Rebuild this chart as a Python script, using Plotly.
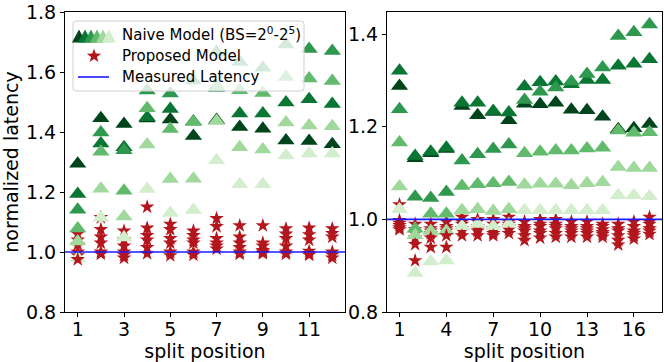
import math
import plotly.graph_objects as go
from plotly.subplots import make_subplots

# ---------------- data ----------------
x_left = list(range(1, 13))
x_right = list(range(1, 18))
left_ticks = [1, 3, 5, 7, 9, 11]
right_ticks = [1, 4, 7, 10, 13, 16]
measured = 1.0

# Naive model, left panel (BS = 1,2,4,8,16,32)
left_naive_bs1 = [1.294, 1.446, 1.427, 1.445, 1.442, 1.387, 1.440, 1.417, 1.411, 1.372, 1.370, 1.359]
left_naive_bs2 = [1.193, 1.362, 1.349, 1.449, 1.477, 1.435, 1.547, 1.462, 1.462, 1.498, 1.509, 1.493]
left_naive_bs4 = [1.141, 1.398, 1.339, 1.538, 1.528, 1.572, 1.667, 1.633, 1.614, 1.692, 1.677, 1.670]
left_naive_bs8 = [1.078, 1.334, 1.204, 1.479, 1.410, 1.433, 1.553, 1.539, 1.530, 1.583, 1.578, 1.570]
left_naive_bs16 = [1.035, 1.211, 1.118, 1.358, 1.243, 1.244, 1.437, 1.349, 1.342, 1.432, 1.422, 1.419]
left_naive_bs32 = [0.980, 1.114, 1.048, 1.210, 1.130, 1.140, 1.306, 1.226, 1.226, 1.322, 1.328, 1.328]

# Proposed model, left panel
left_prop_bs1 = [1.060, 1.115, 1.070, 1.150, 1.093, 1.070, 1.112, 1.088, 1.088, 1.078, 1.080, 1.078]
left_prop_bs2 = [1.040, 1.075, 1.040, 1.080, 1.075, 1.055, 1.085, 1.050, 1.030, 1.060, 1.058, 1.062]
left_prop_bs4 = [1.025, 1.050, 1.020, 1.055, 1.045, 1.040, 1.045, 1.030, 1.020, 1.045, 1.040, 1.050]
left_prop_bs8 = [1.000, 1.030, 1.000, 1.040, 1.030, 1.030, 1.030, 1.015, 1.005, 1.020, 1.003, 1.000]
left_prop_bs16 = [0.988, 1.000, 0.990, 1.015, 1.000, 1.000, 1.020, 1.000, 1.000, 1.000, 0.995, 0.990]
left_prop_bs32 = [0.975, 0.993, 0.980, 0.995, 0.988, 0.990, 1.010, 0.993, 0.995, 0.993, 0.990, 0.980]

# Naive model, right panel
right_naive_bs1 = [1.288, 1.132, 1.143, 1.152, 1.245, 1.225, 1.232, 1.214, 1.250, 1.249, 1.252, 1.237, 1.236, 1.222, 1.195, 1.197, 1.206]
right_naive_bs2 = [1.321, 1.137, 1.146, 1.155, 1.252, 1.252, 1.234, 1.231, 1.287, 1.296, 1.298, 1.292, 1.301, 1.301, 1.332, 1.336, 1.346]
right_naive_bs4 = [1.238, 1.049, 1.046, 1.059, 1.127, 1.141, 1.152, 1.162, 1.258, 1.276, 1.285, 1.298, 1.314, 1.328, 1.396, 1.404, 1.421]
right_naive_bs8 = [1.166, 0.980, 1.012, 1.012, 1.072, 1.076, 1.078, 1.081, 1.143, 1.146, 1.149, 1.149, 1.153, 1.155, 1.192, 1.187, 1.188]
right_naive_bs16 = [1.071, 0.966, 0.975, 0.975, 1.020, 1.022, 1.018, 1.022, 1.075, 1.077, 1.077, 1.074, 1.078, 1.080, 1.113, 1.111, 1.111]
right_naive_bs32 = [1.022, 0.884, 0.909, 0.911, 0.985, 0.990, 0.985, 0.990, 1.020, 1.020, 1.020, 1.020, 1.020, 1.020, 1.052, 1.052, 1.050]

# Proposed model, right panel
right_prop_bs1 = [1.032, 0.990, 0.990, 0.995, 1.005, 1.000, 1.000, 1.005, 0.995, 1.000, 1.000, 0.995, 0.995, 0.990, 0.990, 0.995, 1.005]
right_prop_bs2 = [0.998, 0.978, 0.980, 0.985, 0.995, 0.995, 0.990, 0.995, 0.985, 0.990, 0.990, 0.985, 0.985, 0.985, 0.980, 0.985, 0.995]
right_prop_bs4 = [0.992, 0.970, 0.975, 0.980, 0.990, 0.985, 0.980, 0.990, 0.980, 0.985, 0.985, 0.980, 0.980, 0.978, 0.975, 0.975, 0.990]
right_prop_bs8 = [0.987, 0.960, 0.970, 0.975, 0.980, 0.980, 0.975, 0.985, 0.975, 0.975, 0.980, 0.975, 0.975, 0.972, 0.965, 0.970, 0.980]
right_prop_bs16 = [0.982, 0.946, 0.960, 0.965, 0.975, 0.975, 0.970, 0.978, 0.965, 0.970, 0.970, 0.970, 0.970, 0.968, 0.955, 0.965, 0.975]
right_prop_bs32 = [0.978, 0.911, 0.940, 0.940, 0.965, 0.965, 0.965, 0.970, 0.955, 0.960, 0.962, 0.962, 0.962, 0.962, 0.945, 0.958, 0.968]

# ---------------- style ----------------
GREENS = ['#00441b', '#0a7633', '#2f984f', '#62bb6d', '#a0d99b', '#d3eecd']
STAR_COLOR = '#b3161d'
LINE_COLOR = '#1a1aff'
FONT = 'DejaVu Sans'
W, H = 664, 362
ML, MR, MT, MB = 65, 2, 12, 50
PW, PH = W - ML - MR, H - MT - MB

left_naive = [left_naive_bs1, left_naive_bs2, left_naive_bs4, left_naive_bs8, left_naive_bs16, left_naive_bs32]
left_prop = [left_prop_bs1, left_prop_bs2, left_prop_bs4, left_prop_bs8, left_prop_bs16, left_prop_bs32]
right_naive = [right_naive_bs1, right_naive_bs2, right_naive_bs4, right_naive_bs8, right_naive_bs16, right_naive_bs32]
right_prop = [right_prop_bs1, right_prop_bs2, right_prop_bs4, right_prop_bs8, right_prop_bs16, right_prop_bs32]

fig = make_subplots(rows=1, cols=2)

for col, xs, naive, prop in [(1, x_left, left_naive, left_prop), (2, x_right, right_naive, right_prop)]:
    for i in range(6):
        fig.add_trace(go.Scatter(x=xs, y=naive[i], mode='markers', showlegend=False,
                                 marker=dict(symbol='triangle-up', size=15, color=GREENS[i],
                                             line=dict(width=0))), row=1, col=col)
        fig.add_trace(go.Scatter(x=xs, y=prop[i], mode='markers', showlegend=False,
                                 marker=dict(symbol='star', size=11, color=STAR_COLOR,
                                             line=dict(width=0))), row=1, col=col)

# measured latency line
for xr, yr in [('x', 'y'), ('x2', 'y2')]:
    fig.add_shape(type='line', xref=xr + ' domain', yref=yr, x0=0, x1=1, y0=measured, y1=measured,
                  line=dict(color=LINE_COLOR, width=1.6), layer='above')

axis_common = dict(showline=True, linecolor='black', linewidth=1, mirror=True, ticks='outside',
                   ticklen=4, tickcolor='black', showgrid=False, zeroline=False, automargin=False,
                   tickfont=dict(family=FONT, size=19, color='black'))
title_font = dict(family=FONT, size=19, color='black')

d1 = (345 - ML) / PW
d2 = (387 - ML) / PW
fig.update_layout(
    xaxis=dict(domain=[0, d1], range=[0.45, 12.55], tickvals=left_ticks, ticklabelstandoff=-4,
               title=dict(text='split position', font=title_font, standoff=0), **axis_common),
    xaxis2=dict(domain=[d2, 1], range=[0.2, 17.8], tickvals=right_ticks, ticklabelstandoff=-4,
                title=dict(text='split position', font=title_font, standoff=0), **axis_common),
    yaxis=dict(range=[0.8, 1.8], tickvals=[0.8, 1.0, 1.2, 1.4, 1.6, 1.8], tickformat='.1f',
               title=dict(text='normalized latency', font=title_font, standoff=2), **axis_common),
    yaxis2=dict(range=[0.8, 1.448], tickvals=[0.8, 1.0, 1.2, 1.4], tickformat='.1f', **axis_common),
    width=W, height=H, margin=dict(l=ML, r=MR, t=MT, b=MB, autoexpand=False),
    plot_bgcolor='white', paper_bgcolor='white', showlegend=False,
    font=dict(family=FONT, color='black'),
)

# ---------------- manual legend ----------------
def X(px):
    return (px - ML) / PW

def Y(py):
    return (MT + PH - py) / PH

def path(points):
    return 'M ' + ' L '.join(f'{X(a):.5f},{Y(b):.5f}' for a, b in points) + ' Z'

# rounded box
bx0, by0, bx1, by1, rr = 73, 21, 304, 91, 3
box = (f'M {X(bx0+rr)},{Y(by0)} L {X(bx1-rr)},{Y(by0)} Q {X(bx1)},{Y(by0)} {X(bx1)},{Y(by0+rr)} '
       f'L {X(bx1)},{Y(by1-rr)} Q {X(bx1)},{Y(by1)} {X(bx1-rr)},{Y(by1)} '
       f'L {X(bx0+rr)},{Y(by1)} Q {X(bx0)},{Y(by1)} {X(bx0)},{Y(by1-rr)} '
       f'L {X(bx0)},{Y(by0+rr)} Q {X(bx0)},{Y(by0)} {X(bx0+rr)},{Y(by0)} Z')
fig.add_shape(type='path', path=box, xref='paper', yref='paper', layer='above',
              fillcolor='rgba(255,255,255,0.8)', line=dict(color='#d0d0d0', width=1))

# legend icon: six triangles
for i, c in enumerate(GREENS):
    cx, cy, hw, hh = 79 + 6 * i, 36, 7, 6.5
    fig.add_shape(type='path', path=path([(cx - hw, cy + hh), (cx + hw, cy + hh), (cx, cy - hh)]),
                  xref='paper', yref='paper', layer='above', fillcolor=c, line=dict(width=0))

# legend icon: star
scx, scy, R, r = 94, 56, 7.5, 3.0
pts = []
for k in range(10):
    ang = -math.pi / 2 + k * math.pi / 5
    rad = R if k % 2 == 0 else r
    pts.append((scx + rad * math.cos(ang), scy + rad * math.sin(ang)))
fig.add_shape(type='path', path=path(pts), xref='paper', yref='paper', layer='above',
              fillcolor=STAR_COLOR, line=dict(width=0))

# legend icon: line
fig.add_shape(type='line', xref='paper', yref='paper', x0=X(78), x1=X(109), y0=Y(77), y1=Y(77),
              line=dict(color=LINE_COLOR, width=1.6), layer='above')

for txt, py in [('Naive Model (BS=2<sup>0</sup>-2<sup>5</sup>)', 33.5),
                ('Proposed Model', 55.5), ('Measured Latency', 77)]:
    fig.add_annotation(text=txt, xref='paper', yref='paper', x=X(120), y=Y(py), xanchor='left',
                       yanchor='middle', showarrow=False,
                       font=dict(family=FONT, size=15, color='black'))

fig.write_html('out.html', config={'displayModeBar': False},
               post_script="document.body.style.margin='0';")
